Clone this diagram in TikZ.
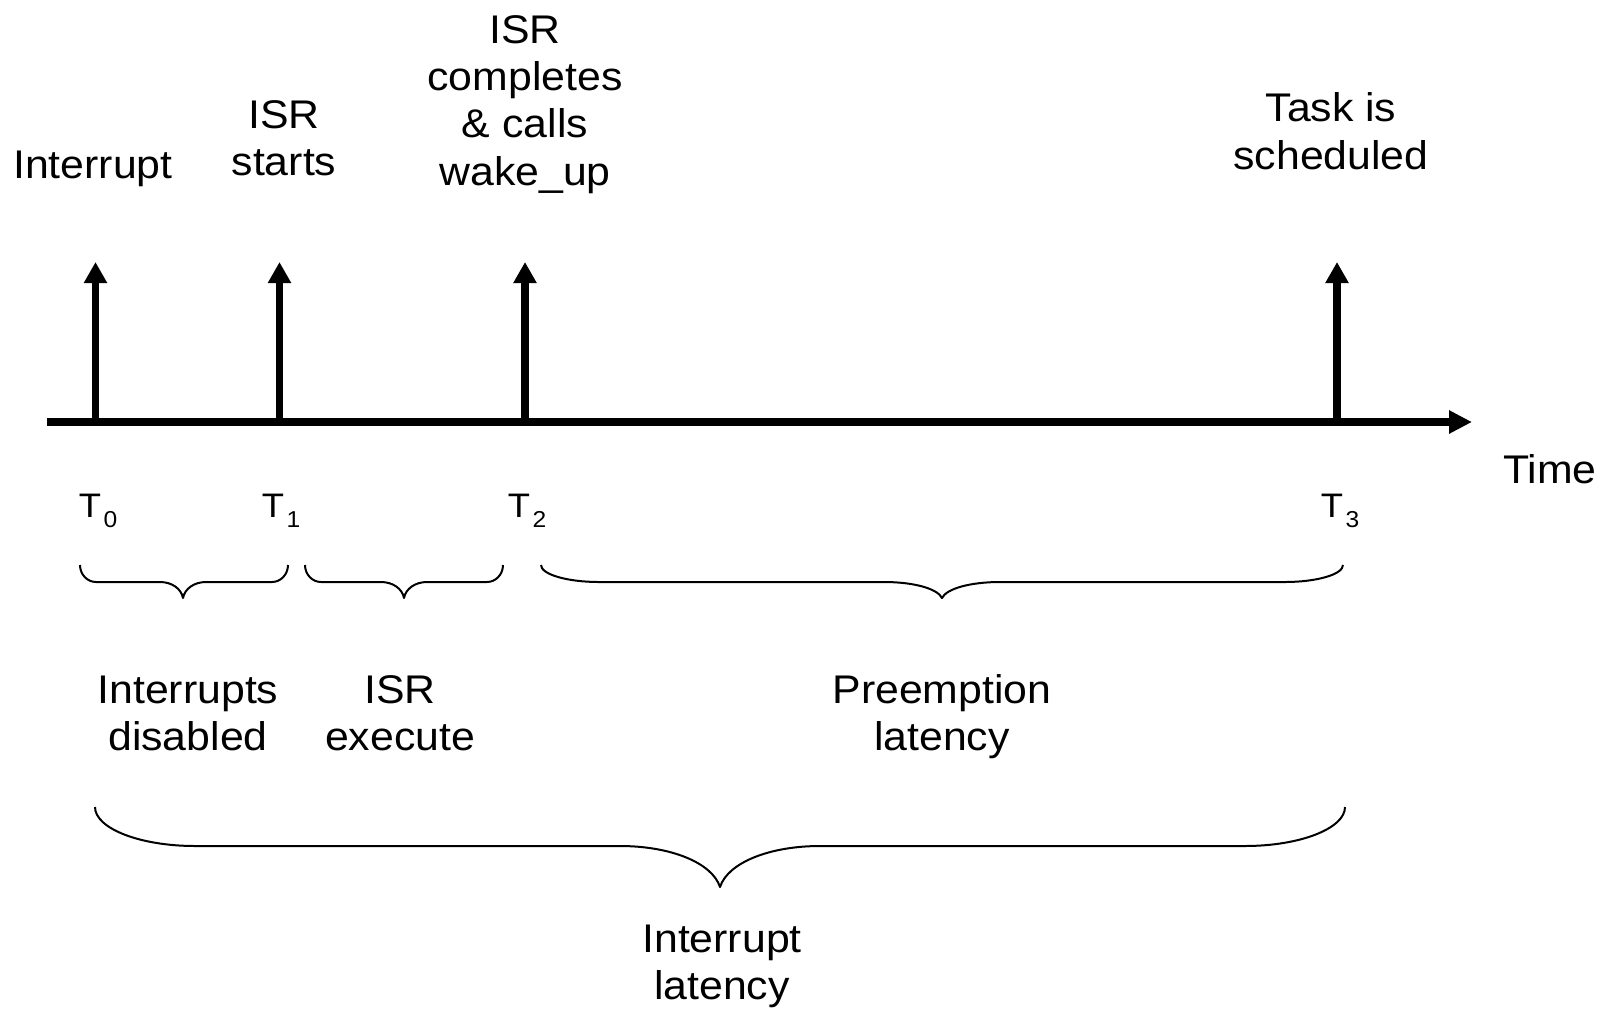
\documentclass[tikz,border=0pt]{standalone}
\usepackage{fontspec}
\setmainfont[FakeStretch=1.07]{Liberation Sans}
\usetikzlibrary{arrows.meta}

% first-line strut so a label's north edge sits a fixed 30pt above its first baseline
\newcommand{\topstrut}{\rule{0pt}{30pt}}
% time stamp label T with a lowered index
\newcommand{\tstamp}[1]{T\kern2.5pt\raisebox{-10pt}{\fontsize{23}{23}\selectfont #1}}
% curly brace: x1, x2, tip x, top y, bar y, tip y, end-curve width, tip-curve width
\newcommand{\spanbrace}[8]{%
  \draw[bracestroke]
    (#1,#4) .. controls (#1,{#4+0.55*(#5-#4)}) and ({#1+0.45*#7},#5) .. ({#1+#7},#5)
    -- ({#3-#8},#5)
    .. controls ({#3-0.5*#8},#5) and ({#3-0.08*#8},{#5+0.4*(#6-#5)}) .. (#3,#6)
    .. controls ({#3+0.08*#8},{#5+0.4*(#6-#5)}) and ({#3+0.5*#8},#5) .. ({#3+#8},#5)
    -- ({#2-#7},#5)
    .. controls ({#2-0.45*#7},#5) and (#2,{#4+0.55*(#5-#4)}) .. (#2,#4);}

\tikzset{
  axisline/.style={line width=7.5pt, -{Triangle[length=23pt,width=22pt]}},
  eventarrow/.style={line width=7.5pt, -{Triangle[length=21pt,width=22pt]}},
  bracestroke/.style={line width=2pt, line join=round},
  lbl/.style={inner sep=0pt, align=center,
    font=\fontsize{40}{47.3}\selectfont},
  stamp/.style={inner sep=0pt, anchor=base,
    font=\fontsize{34}{34}\selectfont},
}

\begin{document}
\begin{tikzpicture}[x=1pt,y=-1pt]
  \useasboundingbox[fill=white] (0,0) rectangle (1611,1010);

  % time axis
  \coordinate (axisstart) at (47,422);
  \coordinate (axisend) at (1472,422);
  \draw[axisline] (axisstart) -- (axisend);

  % event instants on the axis and the tips of their arrows
  \coordinate (e0) at (95.5,422);  \coordinate (e0top) at (95.5,262);
  \coordinate (e1) at (279.5,422); \coordinate (e1top) at (279.5,262);
  \coordinate (e2) at (525,422);   \coordinate (e2top) at (525,262);
  \coordinate (e3) at (1337,422);  \coordinate (e3top) at (1337,262);
  \draw[eventarrow] (e0) -- (e0top);
  \draw[eventarrow] (e1) -- (e1top);
  \draw[eventarrow] (e2) -- (e2top);
  \draw[eventarrow] (e3) -- (e3top);

  % event captions above the arrows
  \node[lbl, anchor=base] (interrupt) at (93,178) {Interrupt};
  \node[lbl, anchor=north] (isrstart) at (284,98) {\topstrut ISR\\starts};
  \node[lbl, anchor=north] (isrdone) at (525,13) {\topstrut ISR\\completes\\\& calls\\wake\_up};
  \node[lbl, anchor=north] (sched) at (1331,91.7) {\topstrut Task is\\scheduled};

  % axis caption and time stamps
  \node[lbl, anchor=base] (time) at (1550,483) {Time};
  \node[stamp] (t0) at (98,517) {\tstamp{0}};
  \node[stamp] (t1) at (281,517) {\tstamp{1}};
  \node[stamp] (t2) at (527,517) {\tstamp{2}};
  \node[stamp] (t3) at (1340,517) {\tstamp{3}};

  % interval braces
  \spanbrace{80}{288}{183}{565}{582}{598}{16}{23}
  \spanbrace{305}{503}{404}{565}{582}{598}{16}{23}
  \spanbrace{541}{1343}{942}{565}{582}{598}{58}{58}
  \spanbrace{95}{1345}{720}{807}{846}{887}{100}{100}

  % interval captions
  \node[lbl, anchor=north] (disabled) at (188,673) {\topstrut Interrupts\\disabled};
  \node[lbl, anchor=north] (execute) at (400,673) {\topstrut ISR\\execute};
  \node[lbl, anchor=north] (preempt) at (942,673) {\topstrut Preemption\\latency};
  \node[lbl, anchor=north] (intlat) at (722,922) {\topstrut Interrupt\\latency};
\end{tikzpicture}
\end{document}
